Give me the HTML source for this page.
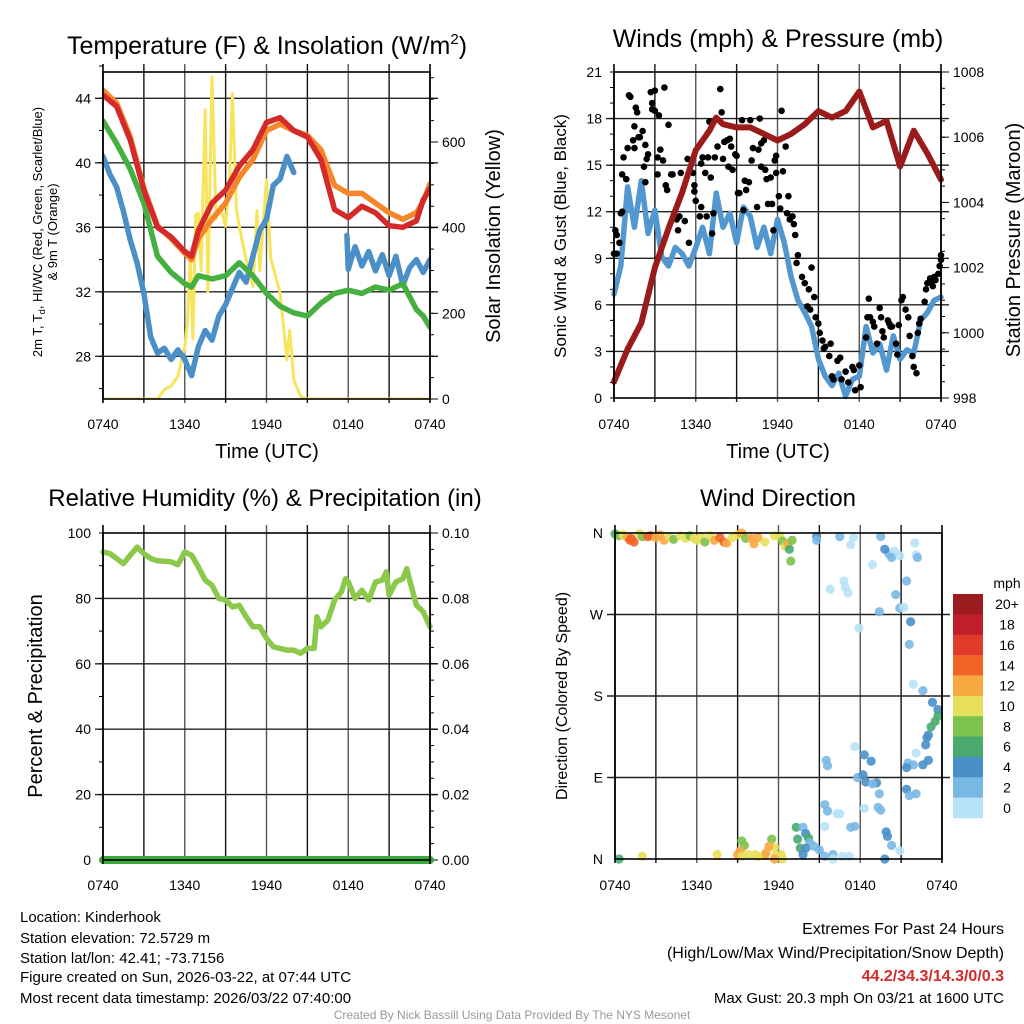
<!DOCTYPE html>
<html><head><meta charset="utf-8">
<style>
html,body{margin:0;padding:0;background:#fff;}
svg{display:block;font-family:"Liberation Sans",Arial,sans-serif;}
</style></head>
<body>
<svg id="c" width="1024" height="1024" viewBox="0 0 1024 1024">
<g id="titles">
<text x="267" y="54" font-size="25" text-anchor="middle">Temperature (F) &amp; Insolation (W/m<tspan font-size="15" dy="-10">2</tspan><tspan dy="10">)</tspan></text>
<text x="778" y="47" font-size="25" text-anchor="middle">Winds (mph) &amp; Pressure (mb)</text>
<text x="265" y="506" font-size="24" text-anchor="middle">Relative Humidity (%) &amp; Precipitation (in)</text>
<text x="778" y="506" font-size="24" text-anchor="middle">Wind Direction</text>
</g>
<g>
<text transform="translate(42,232) rotate(-90)" font-size="13" text-anchor="middle">2m T, T<tspan font-size="9" dy="3">d</tspan><tspan dy="-3">, HI/WC (Red, Green, Scarlet/Blue)</tspan></text>
<text transform="translate(57,232) rotate(-90)" font-size="13" text-anchor="middle">&amp; 9m T (Orange)</text>
<text transform="translate(500,236) rotate(-90)" font-size="20" text-anchor="middle">Solar Insolation (Yellow)</text>
<text x="267" y="458" font-size="20" text-anchor="middle">Time (UTC)</text>
<text transform="translate(566,236) rotate(-90)" font-size="17" text-anchor="middle">Sonic Wind &amp; Gust (Blue, Black)</text>
<text transform="translate(1020,240) rotate(-90)" font-size="20" text-anchor="middle">Station Pressure (Maroon)</text>
<text x="778" y="458" font-size="20" text-anchor="middle">Time (UTC)</text>
<text transform="translate(42,696) rotate(-90)" font-size="20" text-anchor="middle">Percent &amp; Precipitation</text>
<text transform="translate(567,696) rotate(-90)" font-size="16" text-anchor="middle">Direction (Colored By Speed)</text>
</g>
<g font-size="15">
<text x="20" y="922">Location: Kinderhook</text>
<text x="20" y="943">Station elevation: 72.5729 m</text>
<text x="20" y="963">Station lat/lon: 42.41; -73.7156</text>
<text x="20" y="982">Figure created on Sun, 2026-03-22, at 07:44 UTC</text>
<text x="20" y="1003">Most recent data timestamp: 2026/03/22 07:40:00</text>
</g>
<g font-size="16" text-anchor="end">
<text x="1004" y="934">Extremes For Past 24 Hours</text>
<text x="1004" y="958">(High/Low/Max Wind/Precipitation/Snow Depth)</text>
<text x="1004" y="981" fill="#d42a2a" font-weight="bold">44.2/34.3/14.3/0/0.3</text>
<text x="1004" y="1003" font-size="15">Max Gust: 20.3 mph On 03/21 at 1600 UTC</text>
</g>
<text x="512" y="1019" font-size="12" fill="#999" text-anchor="middle">Created By Nick Bassill Using Data Provided By The NYS Mesonet</text>
</svg>
<script>
// ---------- data ----------
const xTickLabels = ["0740","1340","1940","0140","0740"];
const tempHours = [0,1,2,3,4,5,6,6.5,7,8,9,10,11,12,13,14,15,16,17,18,19,20,21,22,23,23.5,24];
const redTemp =   [44.2,43.5,41.4,38.3,36.0,35.4,34.5,34.2,35.8,37.5,38.3,39.8,40.8,42.5,42.8,42.0,41.6,40.2,37.1,36.6,37.3,36.9,36.1,36.0,36.4,37.7,38.4];
const orangeTemp= [44.5,43.7,41.6,38.4,36.1,35.3,34.4,34.0,35.3,36.5,37.5,39.1,40.2,42.0,42.4,42.0,41.7,40.8,38.6,38.1,38.1,37.5,36.9,36.5,36.9,37.6,38.7];
const greenTemp = [42.6,41.2,39.6,37.5,34.2,33.2,32.5,32.3,33.0,32.8,33.0,33.8,33.0,31.9,31.1,30.7,30.5,31.3,31.9,32.1,31.9,32.3,32.1,32.5,30.9,30.5,29.8];
const dewHours = [0,0.5,1,1.5,2,2.5,3,3.5,4,4.5,5,5.5,6,6.5,7,7.5,8,8.5,9,9.5,10,10.5,11,11.5,12,12.5,13,13.5,14,14.5,17.9,18,18.5,19,19.5,20,20.5,21,21.5,22,22.5,23,23.5,24];
const dewTemp  = [40.4,39.3,38.5,37.0,35.2,33.8,31.9,29.2,28.2,28.5,27.8,28.4,27.8,26.8,28.6,29.6,29.0,30.5,31.2,32.2,33.2,32.6,34.2,35.8,36.5,38.6,39.0,40.4,39.4,null,35.5,33.4,34.8,33.6,34.5,33.3,34.3,33.0,34.2,32.4,33.5,34.0,33.2,34.0];
const solarHours = [0,4,4.5,5,5.5,6,6.2,6.4,6.6,6.8,7,7.2,7.5,7.7,8,8.3,8.6,9,9.3,9.5,9.8,10,10.5,11,11.3,11.5,12,12.3,13,13.5,13.7,14,14.5,15,24];
const solarWm2 =   [0,0,22,30,53,123,180,333,140,430,434,300,675,250,752,420,450,403,520,713,440,403,325,263,440,300,511,330,247,92,160,45,6,0,0];
const windHours = [0,0.5,1,1.5,2,2.5,3,3.5,4,4.5,5,5.5,6,6.5,7,7.5,8,8.5,9,9.5,10,10.5,11,11.5,12,12.5,13,13.5,14,14.5,15,15.5,16,16.5,17,17.5,18,18.5,19,19.5,20,20.5,21,21.5,22,22.5,23,23.5,24];
const windSpeed = [6.7,8.5,13.6,11.0,14.0,10.6,12.1,9.1,8.5,9.7,9.3,8.5,9.7,11.0,9.3,13.2,11.0,11.9,10.0,12.3,11.7,9.7,11.0,9.3,11.5,10.0,7.8,6.3,5.5,4.6,2.5,1.4,0.8,1.6,0.1,1.2,1.4,4.6,2.9,3.5,1.8,4.0,2.5,3.1,2.9,5.0,5.5,6.3,6.5];
const pressHours = [0,1,2,3,4,5,6,7,7.5,8,9,10,11,12,13,14,15,16,17,18,19,20,21,22,23,24];
const pressure =   [998.5,999.5,1000.3,1002.0,1003.2,1004.3,1005.6,1006.2,1006.6,1006.4,1006.3,1006.3,1006.1,1005.9,1006.1,1006.4,1006.8,1006.6,1006.8,1007.4,1006.3,1006.5,1005.1,1006.2,1005.5,1004.7];
const gustHours = [0,0.1,0.2,0.4,0.2,0.5,0.6,0.6,0.7,0.9,1.0,1.1,1.2,1.4,1.5,1.5,1.6,1.7,1.8,1.9,2.1,2.2,2.3,2.4,2.5,2.3,2.7,3.0,2.8,2.8,3.0,3.2,3.2,3.3,3.4,3.6,3.7,3.8,3.9,4.0,4.2,4.3,4.4,4.6,4.7,4.8,4.9,5.2,5.4,5.5,5.8,5.9,5.9,6.0,6.3,6.4,6.4,6.5,6.7,6.8,6.9,7.0,7.1,7.2,7.3,7.4,7.6,7.8,7.9,8.0,8.1,8.3,8.4,8.5,8.6,8.7,8.9,9.0,9.1,9.2,9.4,9.5,9.6,9.7,9.9,10.0,10.1,10.2,10.5,10.6,10.7,10.8,10.8,11.0,11.1,11.2,11.3,11.5,11.6,11.7,11.8,11.9,11.9,12.1,12.2,12.3,12.4,12.6,12.7,12.8,12.9,13.1,13.2,13.3,13.4,13.5,13.8,14.0,14.2,14.3,14.4,14.5,14.7,14.8,15.0,15.1,15.3,15.4,15.5,15.8,15.9,16.0,16.1,16.4,16.6,16.7,17.0,17.2,17.5,17.6,17.7,18.0,18.1,18.5,18.6,18.7,18.8,19.0,19.1,19.3,19.5,19.6,19.7,19.8,20.1,20.2,20.3,20.4,20.7,20.8,20.9,21.1,21.2,21.4,21.6,21.7,21.9,22.0,22.2,22.3,22.4,22.5,22.8,22.9,23.0,23.2,23.3,23.4,23.5,23.6,23.8,23.9,24.0,24.0];
const gustSpeed = [9.3,10.8,10.5,10.0,9.3,11.9,12.0,14.4,15.5,14.1,16.1,19.5,19.4,16.6,17.5,16.1,18.7,18.4,16.8,16.8,17.2,14.9,16.3,15.4,15.7,13.9,19.7,19.8,19.0,18.6,18.5,14.4,15.5,18.2,16.0,15.3,20.0,13.7,13.4,17.6,14.4,14.4,11.8,11.5,10.8,11.7,14.5,11.4,15.4,10.0,14.5,13.7,13.3,12.7,11.7,12.3,15.1,15.5,14.5,11.7,15.5,17.8,14.2,10.6,11.9,15.5,16.2,19.9,18.4,15.4,16.5,16.6,14.9,16.7,16.2,14.7,15.7,15.6,13.2,13.2,17.9,12.1,14.0,13.4,13.9,17.9,15.3,16.1,12.3,16.0,18.0,16.4,14.9,16.6,14.7,14.1,12.5,14.2,12.5,10.8,15.3,15.6,14.5,13.0,12.2,18.5,14.6,16.2,11.9,13.0,11.5,11.7,11.2,10.5,8.7,9.2,7.8,7.4,5.9,7.0,5.7,8.4,6.5,5.2,4.8,4.2,3.7,3.2,3.3,2.7,3.5,1.4,1.2,2.4,2.6,1.2,1.7,1.0,2.0,1.8,0.5,2.1,0.7,3.9,5.2,6.4,5.2,4.9,4.6,3.5,5.8,5.2,4.3,3.9,5.0,4.8,4.6,4.6,3.5,2.8,4.7,6.3,6.5,5.7,5.2,4.0,2.7,2.0,1.6,4.2,4.8,5.1,6.2,7.0,7.4,7.7,7.5,7.2,7.8,7.6,8.0,8.5,9.2,8.9];
const rhHours = [0,0.5,1,1.5,2,2.5,3,3.5,4,5,5.5,6,6.5,7,7.5,8,8.5,9,9.5,10,10.5,11,11.5,12,12.5,13,13.5,14,14.5,15,15.5,15.7,16,16.5,17,17.5,17.8,18,18.5,19,19.5,20,20.5,20.8,21,21.5,22,22.3,22.5,23,23.5,24];
const rhPct =   [94.2,93.7,92.2,90.6,93.2,95.7,93.7,92.2,91.5,91.2,90.3,94.2,93.2,89.6,85.6,84.0,80.0,79.5,77.4,77.9,74.4,71.3,71.3,67.8,65.2,64.7,64.2,64.2,63.2,64.7,64.7,74.4,71.3,73.3,79.5,82.0,86.0,85.0,80.0,82.5,79.5,85.0,85.6,88.1,81.0,85.0,86.0,89.1,85.6,77.9,75.9,71.3];
const precipHours = [0,24];
const precipIn = [0,0];
const dirHours = [0,0.3,0.6,0.9,1.1,1.4,1.2,1.8,2,2.4,2.6,3,3.3,3.6,4,4.3,4.8,5.2,5.5,5.8,6,6.3,6.6,7,7.3,7.7,8,8.2,8.6,9,9.3,9.6,10,10.2,10.5,11,11.7,12.1,12.3,12.5,12.7,13,12.8,12.9,
14.8,14.8,16.5,17.5,17.3,19.5,20.1,20.5,19.8,20.3,20.9,18.9,16.8,15.8,16.9,17.1,19.4,20.6,20.9,21.2,22,22.1,22.2,21.4,21.7,17.9,21.6,
21.9,22.6,23.3,23.7,23.7,23.5,23.2,23.0,22.9,22.8,22.1,23.0,22.6,21.9,21.5,21.4,17.6,15.5,15.6,18.3,18.8,17.8,18.4,18.2,19.2,18.9,19.4,21.4,21.6,22.1,18.3,19.3,19.5,15.4,15.6,16.3,16.5,15.4,17.3,17.6,19.9,20.0,20.3,20.9,13.3,13.8,13.4,14.0,14.2,14.3,13.6,14.0,13.8,14.6,15.0,15.4,16.0,16.7,17.2,19.8,16,
9.3,9.5,11.5,11.7,9.2,9.0,9.3,9.8,10.3,11.1,11.3,11.0,11.8,12.2,12.3,7.5,2,0.3,11.7,10.5];
const dirDeg = [359,357,358,355,352,350,354,359,356,356,357,355,358,352,356,353,357,354,357,354,352,356,350,357,352,355,350,349,355,358,360,354,354,348,355,350,357,356,351,345,348,352,342,329,
356,352,356,355,347,356,337,340,342,333,335,325,307,298,300,294,273,292,277,278,349,336,333,307,262,255,237,
193,186,173,165,158,152,146,137,134,126,117,109,104,104,106,101,124,109,103,115,108,90,85,93,84,83,72,77,70,72,56,57,54,60,53,50,50,36,35,36,30,25,15,9,35,35,22,28,23,18,12,12,5,14,10,3,5,3,3,0,0,
20,15,22,13,9,5,3,5,5,7,14,4,4,5,0,5,3,0,0,3];
const dirSpeed = [7,8,10,13,15,15,14,10,9,14,15,12,12,13,10,9,10,10,8,11,10,11,9,10,12,14,15,13,11,11,13,9,12,13,13,11,10,11,8,11,12,8,7,8,
4,3,2,1,1,3,3,1,4,3,1,1,1,1,1,1,3,3,3,1,1,1,3,3,4,1,3,
1,3,4,4,6,6,6,4,4,4,1,4,4,2,2,4,1,3,3,4,4,3,4,4,4,3,3,4,3,3,1,3,3,3,3,1,1,1,3,2,4,4,3,1,6,3,6,4,6,3,6,4,4,3,2,2,3,1,1,4,1,
8,8,8,10,12,13,10,11,11,12,12,13,10,11,10,10,10,6,12,11];
const speedBinLabels = ["20+","18","16","14","12","10","8","6","4","2","0"];
const speedBinColors = ["#9b1b1e","#c0202a","#e03a2a","#f06428","#f8a840","#e8e05a","#7dc24d","#4aaa6e","#4a90c8","#7ab8e4","#b8e2f8"];

// ---------- helpers ----------
const NS = "http://www.w3.org/2000/svg";
const svg = document.getElementById("c");
function mk(tag, attrs, parent) {
  const e = document.createElementNS(NS, tag);
  for (const k in attrs) e.setAttribute(k, attrs[k]);
  (parent || svg).appendChild(e);
  return e;
}
function txt(x, y, s, size, anchor, parent) {
  const t = mk("text", {x: x, y: y, "font-size": size, "text-anchor": anchor}, parent);
  t.textContent = s;
  return t;
}
function makePanel(x0, x1, y0, y1, name) {
  const g = mk("g", {});
  
  
  return {x0, x1, y0, y1, g, xs: h => x0 + h / 24 * (x1 - x0)};
}
function linear(d0, d1, r0, r1) { return v => r0 + (v - d0) / (d1 - d0) * (r1 - r0); }
function drawGridAndFrame(p, yMajorPix) {
  const gg = mk("g", {}, p.g);
  
  
  for (let h = 3; h < 24; h += 3) {
    const x = p.xs(h);
    const l = mk("line", {x1: x, x2: x, y1: p.y0 - 8, y2: p.y1 + 4, stroke: h % 6 === 0 ? "#555" : "#111", "stroke-width": 1.4}, gg);
    
    
  }
  yMajorPix.forEach(y => {
    const l = mk("line", {x1: p.x0 - 8, x2: p.x1 + 8, y1: y, y2: y, stroke: "#222", "stroke-width": 1.4}, gg);
    
    
  });
}
function drawFrame(p) {
  const r = mk("rect", {x: p.x0, y: p.y0, width: p.x1 - p.x0, height: p.y1 - p.y0, fill: "none", stroke: "#000", "stroke-width": 1.6}, p.g);
  
  
  [0, 24].forEach(h => mk("line", {x1: p.xs(h), x2: p.xs(h), y1: p.y0 - 8, y2: p.y1 + 4, stroke: "#000", "stroke-width": 1.6}, p.g));
}
function xLabels(p, y) {
  xTickLabels.forEach((s, i) => {
    const t = txt(p.xs(i * 6), y, s, 14, "middle", p.g);
    
    
  });
}
function yLabels(p, vals, scale, side, fmt) {
  vals.forEach(v => {
    const y = scale(v);
    const x = side === "left" ? p.x0 - 12 : p.x1 + 12;
    const t = txt(x, y + 5, fmt(v), 14, side === "left" ? "end" : "start", p.g);
    
    
  });
}
function minorTicks(p, vals, scale, side, len) {
  vals.forEach(v => {
    const y = scale(v);
    const x = side === "left" ? p.x0 : p.x1;
    mk("line", {x1: x, x2: side === "left" ? x - len : x + len, y1: y, y2: y, stroke: "#000", "stroke-width": 1}, p.g);
  });
}
function polyline(p, xsArr, ysArr, xf, yf, color, width, name) {
  let d = "", pen = false;
  for (let i = 0; i < xsArr.length; i++) {
    if (ysArr[i] === null) { pen = false; continue; }
    d += (pen ? "L" : "M") + xf(xsArr[i]).toFixed(1) + "," + yf(ysArr[i]).toFixed(1);
    pen = true;
  }
  const path = mk("path", {d: d, fill: "none", stroke: color, "stroke-width": width, "stroke-linejoin": "round", "stroke-linecap": "round"}, p.g);
  
  
  return path;
}
function range(a, b, s) { const r = []; for (let v = a; v <= b + 1e-9; v += s) r.push(+v.toFixed(4)); return r; }

// ---------- Panel 1: Temperature ----------
{
  const p = makePanel(103, 430, 72, 399, "temperature-chart");
  const yT = linear(44, 28, 98.3, 356.3);
  const yS = linear(0, 600, 399, 142);
  drawGridAndFrame(p, [44, 40, 36, 32, 28].map(yT));
  minorTicks(p, range(26, 46, 2), yT, "left", 4);
  minorTicks(p, range(0, 750, 50), yS, "right", 4);
  minorTicks(p, [0, 200, 400, 600], yS, "right", 8);
  const clip = mk("clipPath", {id: "clip1"}, p.g);
  mk("rect", {x: p.x0, y: p.y0, width: p.x1 - p.x0, height: p.y1 - p.y0}, clip);
  const cg = mk("g", {"clip-path": "url(#clip1)"}, p.g);
  const pc = {g: cg};
  polyline(pc, solarHours, solarWm2, p.xs, yS, "#f8e45a", 3, "solar-insolation-line");
  polyline(pc, dewHours, dewTemp, p.xs, yT, "#4a8fc8", 5.5, "dewpoint-line");
  polyline(pc, tempHours, greenTemp, p.xs, yT, "#45b040", 5.5, "windchill-line");
  polyline(pc, tempHours, orangeTemp, p.xs, yT, "#f6862a", 5.5, "temp-9m-line");
  polyline(pc, tempHours, redTemp, p.xs, yT, "#d42a2a", 5.5, "temp-2m-line");
  drawFrame(p);
  xLabels(p, 429);
  yLabels(p, [44, 40, 36, 32, 28], yT, "left", v => String(v));
  yLabels(p, [0, 200, 400, 600], yS, "right", v => String(v));
}

// ---------- Panel 2: Winds ----------
{
  const p = makePanel(614, 941, 72, 398, "winds-chart");
  const yW = linear(0, 21, 398, 72);
  const yP = linear(998, 1008, 398, 72);
  drawGridAndFrame(p, range(3, 18, 3).map(yW));
  minorTicks(p, range(0, 21, 1), yW, "left", 4);
  minorTicks(p, range(998, 1008, 0.5), yP, "right", 4);
  minorTicks(p, range(998, 1008, 2), yP, "right", 8);
  polyline(p, windHours, windSpeed, p.xs, yW, "#5297d0", 5.5, "sonic-wind-line");
  gustHours.forEach((h, i) => {
    const c = mk("circle", {cx: p.xs(h), cy: yW(gustSpeed[i]), r: 3.3, fill: "#000"}, p.g);
    
    
  });
  polyline(p, pressHours, pressure, p.xs, yP, "#9b1a1a", 6, "pressure-line");
  drawFrame(p);
  xLabels(p, 429);
  yLabels(p, range(0, 21, 3), yW, "left", v => String(v));
  yLabels(p, range(998, 1008, 2), yP, "right", v => String(v));
}

// ---------- Panel 3: Humidity ----------
{
  const p = makePanel(103, 430, 533, 860, "humidity-chart");
  const yR = linear(0, 100, 860, 533);
  const yPr = linear(0, 0.1, 860, 533);
  drawGridAndFrame(p, [80, 60, 40, 20].map(yR));
  minorTicks(p, range(0, 100, 10), yR, "left", 4);
  minorTicks(p, range(0, 0.1, 0.005), yPr, "right", 4);
  minorTicks(p, range(0, 0.1, 0.02), yPr, "right", 8);
  polyline(p, rhHours, rhPct, p.xs, yR, "#8cc84b", 5.5, "humidity-line");
  polyline(p, precipHours, precipIn, p.xs, yPr, "#3aa83a", 8, "precipitation-line");
  drawFrame(p);
  xLabels(p, 890);
  yLabels(p, range(0, 100, 20), yR, "left", v => String(v));
  yLabels(p, range(0, 0.1, 0.02), yPr, "right", v => v.toFixed(2));
}

// ---------- Panel 4: Wind direction ----------
{
  const p = makePanel(615, 942, 533, 859, "wind-direction-chart");
  const yD = linear(0, 360, 859, 533);
  drawGridAndFrame(p, [90, 180, 270].map(yD));
  ["N", "E", "S", "W", "N"].forEach((s, i) => {
    const t = txt(p.x0 - 12, yD(i * 90) + 5, s, 14, "end", p.g);
    
    
  });
  function binColor(v) {
    let idx = 10 - Math.floor(v / 2);
    if (idx < 0) idx = 0;
    if (idx > 10) idx = 10;
    return speedBinColors[idx];
  }
  dirHours.forEach((h, i) => {
    const c = mk("circle", {cx: p.xs(h), cy: yD(dirDeg[i]), r: 4.6, fill: binColor(dirSpeed[i]), "fill-opacity": 0.9}, p.g);
    
    
  });
  drawFrame(p);
  xLabels(p, 890);
  const cb = mk("g", {});
  
  
  const t0 = txt(1007, 588, "mph", 14, "middle", cb);
  
  
  const bh = 224 / speedBinColors.length;
  speedBinColors.forEach((col, i) => {
    const r = mk("rect", {x: 953, y: 594 + i * bh, width: 30, height: bh + 0.3, fill: col}, cb);
    
    
    const t = txt(1007, 594 + i * bh + bh / 2 + 5, speedBinLabels[i], 14, "middle", cb);
    
    
  });
}
</script>
</body></html>
